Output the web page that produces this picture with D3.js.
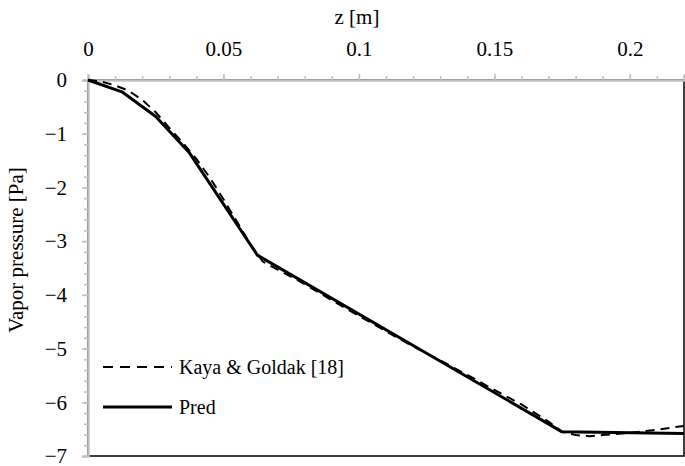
<!DOCTYPE html>
<html>
<head>
<meta charset="utf-8">
<script src="https://cdn.jsdelivr.net/npm/d3@7"></script>
<style>
    body { margin: 0; background: #fff; }
    text { font-family: "Liberation Serif", "Times New Roman", serif; fill: #000; }
    .tick-label { font-size: 21px; }
    .axis-title { font-size: 21px; }
    .legend-label { font-size: 20px; }
</style>
</head>
<body>
<div id="chart"></div>
<script>
// Pred (solid) series
const zPred = [0, 0.0125, 0.025, 0.0375, 0.0625, 0.175, 0.22];
const vPred = [0, -0.22, -0.68, -1.36, -3.26, -6.55, -6.58];

// Kaya & Goldak [18] (dashed) series
const zKaya = [0, 0.005, 0.01, 0.015, 0.02, 0.025, 0.03, 0.035, 0.04, 0.045, 0.05, 0.055, 0.06,
    0.0645, 0.07, 0.08, 0.09, 0.1, 0.11, 0.12, 0.13, 0.14, 0.15, 0.16, 0.17, 0.175,
    0.18, 0.185, 0.19, 0.2, 0.21, 0.22];
const vKaya = [0, -0.03, -0.10, -0.20, -0.37, -0.60, -0.89, -1.17, -1.47, -1.82, -2.22, -2.64, -3.06,
    -3.38, -3.53, -3.80, -4.10, -4.39, -4.68, -4.96, -5.22, -5.49, -5.77, -6.04, -6.36, -6.55,
    -6.61, -6.63, -6.61, -6.57, -6.51, -6.44];

// Tick values
const xTicks = [0, 0.05, 0.1, 0.15, 0.2];
const yTicks = [0, -1, -2, -3, -4, -5, -6, -7];

const legendLabels = ['Kaya & Goldak [18]', 'Pred'];

const config = {
    containerWidth: 685,
    containerHeight: 466,
    margin: {top: 80, right: 1, bottom: 10, left: 88}
};

const width = config.containerWidth - config.margin.left - config.margin.right;
const height = config.containerHeight - config.margin.top - config.margin.bottom;

const svg = d3.select('#chart').append('svg')
    .attr('width', config.containerWidth)
    .attr('height', config.containerHeight);

const chart = svg.append('g')
    .attr('transform', `translate(${config.margin.left},${config.margin.top})`);

// Scales
const xScale = d3.scaleLinear().domain([0, 0.22]).range([0, width]);
const yScale = d3.scaleLinear().domain([-7, 0]).range([height, 0]);

// Plot area border (bottom and right show in black)
chart.append('rect')
    .attr('width', width)
    .attr('height', height)
    .attr('fill', 'none')
    .attr('stroke', '#000')
    .attr('stroke-width', 1.5);

// Clip the series to the plot area
chart.append('defs').append('clipPath')
    .attr('id', 'plot-clip')
    .append('rect')
    .attr('x', -2)
    .attr('y', -2)
    .attr('width', width + 2)
    .attr('height', height + 4);

// Minor ticks: x every 0.01, y every 0.2
const xMinor = d3.range(0, 23).map(i => i / 100);
const yMinor = d3.range(0, 36).map(i => -i / 5);

const xMinorAxis = d3.axisTop(xScale).tickValues(xMinor).tickSize(4).tickFormat('');
const xAxis = d3.axisTop(xScale).tickValues(xTicks).tickSize(6).tickPadding(18)
    .tickFormat(d => d === 0 ? '0' : d3.format('~g')(d));
const yMinorAxis = d3.axisLeft(yScale).tickValues(yMinor).tickSize(4).tickFormat('');
const yAxis = d3.axisLeft(yScale).tickValues(yTicks).tickSize(6).tickPadding(15)
    .tickFormat(d => d3.format('d')(d));

const axisColor = '#bfbfbf';

function styleAxis(g) {
    g.attr('font-family', null).attr('font-size', null);
    g.select('.domain').attr('stroke', axisColor).attr('stroke-width', 2);
    g.selectAll('.tick line').attr('stroke', axisColor).attr('stroke-width', 1.5);
    g.selectAll('.tick text').attr('class', 'tick-label');
}

chart.append('g').call(xMinorAxis).call(styleAxis);
chart.append('g').call(xAxis).call(styleAxis);
chart.append('g').call(yMinorAxis).call(styleAxis);
chart.append('g').call(yAxis).call(styleAxis);

chart.selectAll('.tick text').attr('fill', '#000');

// Lines
const line = d3.line()
    .x(d => xScale(d[0]))
    .y(d => yScale(d[1]));

const kayaData = zKaya.map((z, i) => [z, vKaya[i]]);
const predData = zPred.map((z, i) => [z, vPred[i]]);

const plot = chart.append('g').attr('clip-path', 'url(#plot-clip)');

plot.append('path')
    .datum(kayaData)
    .attr('d', line)
    .attr('fill', 'none')
    .attr('stroke', '#000')
    .attr('stroke-width', 2)
    .attr('stroke-dasharray', '9,6');

plot.append('path')
    .datum(predData)
    .attr('d', line)
    .attr('fill', 'none')
    .attr('stroke', '#000')
    .attr('stroke-width', 3)
    .attr('stroke-linejoin', 'round');

// Axis titles
svg.append('text')
    .attr('class', 'axis-title')
    .attr('x', 357)
    .attr('y', 24)
    .attr('text-anchor', 'middle')
    .text('z [m]');

svg.append('text')
    .attr('class', 'axis-title')
    .attr('transform', 'translate(23,250) rotate(-90)')
    .attr('text-anchor', 'middle')
    .text('Vapor pressure [Pa]');

// Legend
const legend = svg.append('g')
    .attr('transform', 'translate(103,367)');

const legendItems = legend.selectAll('.legend-item')
    .data(legendLabels)
    .join('g')
    .attr('class', 'legend-item')
    .attr('transform', (d, i) => `translate(0,${i * 40})`);

legendItems.append('line')
    .attr('x1', 0)
    .attr('x2', 69)
    .attr('stroke', '#000')
    .attr('stroke-width', (d, i) => i === 0 ? 2 : 3)
    .attr('stroke-dasharray', (d, i) => i === 0 ? '10,7' : null);

legendItems.append('text')
    .attr('class', 'legend-label')
    .attr('x', 76)
    .attr('dy', '0.35em')
    .text(d => d);
</script>
</body>
</html>
